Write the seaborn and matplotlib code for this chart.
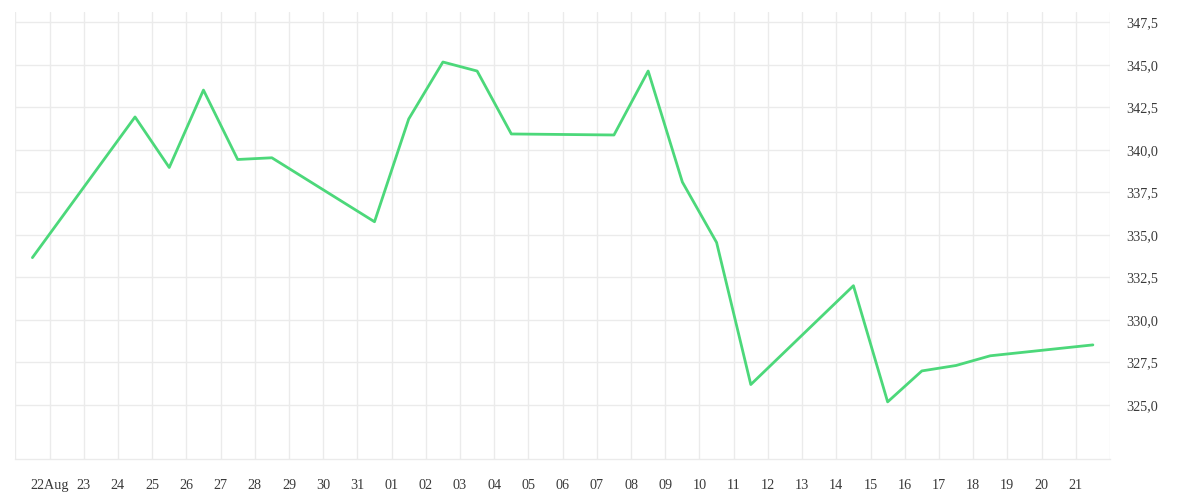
import matplotlib
matplotlib.use("Agg")
import matplotlib.pyplot as plt
import matplotlib.dates as mdates
import matplotlib.ticker as mticker
import seaborn as sns
import pandas as pd
import numpy as np

# ---- data ----
dates = ["2020-08-21", "2020-08-24", "2020-08-25", "2020-08-26", "2020-08-27",
         "2020-08-28", "2020-08-31", "2020-09-01", "2020-09-02", "2020-09-03",
         "2020-09-04", "2020-09-07", "2020-09-08", "2020-09-09", "2020-09-10",
         "2020-09-11", "2020-09-14", "2020-09-15", "2020-09-16", "2020-09-17",
         "2020-09-18", "2020-09-21"]
values = [333.66, 341.93, 338.96, 343.51, 339.43,
          339.53, 335.77, 341.81, 345.16, 344.63,
          340.93, 340.87, 344.63, 338.10, 334.55,
          326.20, 332.01, 325.18, 327.00, 327.32,
          327.89, 328.53]
tick_days = pd.date_range("2020-08-21", "2020-09-22", freq="D")
tick_labels = [""] + ["22Aug"] + [d.strftime("%d") for d in tick_days[2:-1]] + [""]
y_ticks = [325.0, 327.5, 330.0, 332.5, 335.0, 337.5, 340.0, 342.5, 345.0, 347.5]

df = pd.DataFrame({"date": pd.to_datetime(dates) + pd.Timedelta(hours=12),
                   "value": values})

sns.set_style("white")
plt.rcParams["font.family"] = ["Liberation Serif", "DejaVu Serif"]

GRID = "#ebebeb"
TEXT = "#3a3a3a"

fig = plt.figure(figsize=(12, 5), dpi=100)
ax = fig.add_axes([15.3 / 1200, 1 - 458.7 / 500, (1110 - 15.3) / 1200, (458.7 - 12) / 500])

sns.lineplot(data=df, x="date", y="value", ax=ax, color="#4cd87a", linewidth=2.0)

ax.set_xlim(tick_days[0], tick_days[-1])
ax.set_ylim(321.84, 348.1)

ax.set_xticks(tick_days)
ax.set_xticklabels(tick_labels)
ax.set_yticks(y_ticks)
ax.yaxis.set_major_formatter(mticker.FuncFormatter(lambda v, p: f"{v:.1f}".replace(".", ",")))

ax.yaxis.tick_right()
ax.grid(True, color=GRID, linewidth=1.0)
ax.set_axisbelow(True)

for s in ["top", "left", "right"]:
    ax.spines[s].set_visible(False)
ax.spines["bottom"].set_color(GRID)
ax.spines["bottom"].set_linewidth(1.0)

ax.tick_params(axis="x", length=6.7, width=1.0, color=GRID, pad=7.8,
               labelsize=10.2, labelcolor=TEXT)
ax.tick_params(axis="y", length=0, pad=12, labelsize=10.2, labelcolor=TEXT)

ax.set_xlabel("")
ax.set_ylabel("")

fig.savefig("out.png", dpi=100, facecolor="white")
